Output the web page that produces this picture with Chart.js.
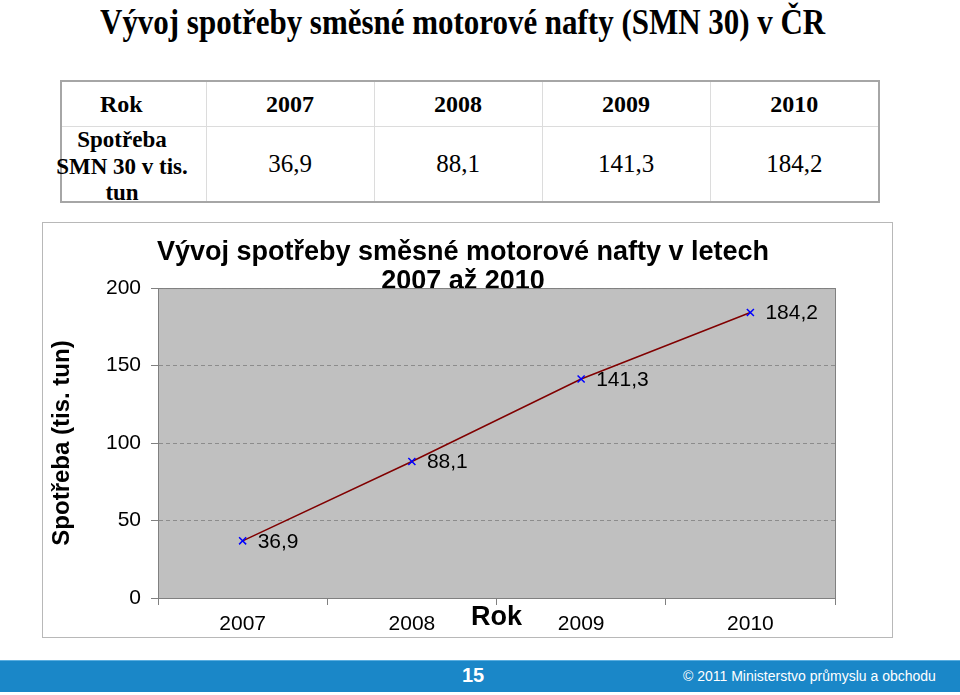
<!DOCTYPE html>
<html lang="cs">
<head>
<meta charset="utf-8">
<title>Vývoj spotřeby SMN 30</title>
<script src="https://cdn.jsdelivr.net/npm/chart.js@4/dist/chart.umd.min.js"></script>
<style>
  body { margin:0; width:960px; height:695px; position:relative; background:#fff; overflow:hidden; }
  #title { position:absolute; left:0; top:2px; width:925px; text-align:center;
    font-family:"Liberation Serif","Times New Roman",serif; font-weight:bold; font-size:36px; line-height:40px; }
  #title span { display:inline-block; transform:scaleX(0.86); white-space:nowrap; }
  #tbl { position:absolute; left:60px; top:80px; width:818px; border-collapse:collapse; table-layout:fixed;
    font-family:"Liberation Serif","Times New Roman",serif; font-size:25px; border:2px solid #a6a6a6; }
  #tbl td { border:1px solid #dcdcdc; padding:0; text-align:center; vertical-align:middle; overflow:visible; white-space:nowrap; }
  #tbl tr.head td { height:44px; font-weight:bold; font-size:24px; }
  #tbl tr.vals td { height:74px; }
  #tbl td.first { padding-right:25px; }
  .lbl { width:200px; margin-left:-40px; height:74px; line-height:26.5px; font-size:23px; font-weight:bold; padding-top:0; box-sizing:border-box; }
  #box { position:absolute; left:42px; top:222px; width:851px; height:416px; border:1px solid #b8b8b8; box-sizing:border-box; }
  #footer { position:absolute; left:0; top:660px; width:960px; height:32px; background:#1a87c8; border-top:1px solid #5aaee0; box-sizing:border-box;
    color:#fff; font-family:"Liberation Sans",Arial,sans-serif; }
  #page { position:absolute; left:453px; width:40px; top:3px; text-align:center; font-weight:bold; font-size:20px; }
  #copy { position:absolute; left:683px; top:7px; font-size:14px; white-space:nowrap; }
</style>
</head>
<body>
<div id="title"><span>Vývoj spotřeby směsné motorové nafty (SMN 30) v ČR</span></div>

<table id="tbl">
  <colgroup><col style="width:145px"><col style="width:168px"><col style="width:168px"><col style="width:168px"><col style="width:169px"></colgroup>
  <tr class="head" id="headRow"></tr>
  <tr class="vals" id="valRow"></tr>
</table>

<div id="box"><canvas id="smnChart" width="849" height="414"></canvas></div>

<div id="footer"><div id="page">15</div><div id="copy">© 2011 Ministerstvo průmyslu a obchodu</div></div>

<script>
// data
const years = ['2007', '2008', '2009', '2010'];
const consumption = [36.9, 88.1, 141.3, 184.2];
const yTicks = [0, 50, 100, 150, 200];

const fmt = v => v.toFixed(1).replace('.', ',');

//   <------------ Table ------------->
const headRow = document.getElementById('headRow');
const valRow = document.getElementById('valRow');
headRow.innerHTML = '<td class="first">Rok</td>' + years.map(y => '<td>' + y + '</td>').join('');
valRow.innerHTML = '<td class="first"><div class="lbl">Spotřeba<br>SMN 30 v tis.<br>tun</div></td>' +
  consumption.map(v => '<td>' + fmt(v) + '</td>').join('');

//   <------------ Chart ------------->
const plotBg = {
  id: 'plotBg',
  beforeDraw(chart) {
    const {ctx, chartArea: a} = chart;
    ctx.save();
    ctx.fillStyle = '#c0c0c0';
    ctx.fillRect(a.left, a.top, a.right - a.left, a.bottom - a.top);
    ctx.restore();
  },
  beforeDatasetsDraw(chart) {
    const {ctx, chartArea: a} = chart;
    ctx.save();
    ctx.strokeStyle = '#808080';
    ctx.lineWidth = 1;
    ctx.strokeRect(a.left + 0.5, a.top + 0.5, a.right - a.left, a.bottom - a.top);
    ctx.restore();
  }
};

const valueLabels = {
  id: 'valueLabels',
  afterDatasetsDraw(chart) {
    const ctx = chart.ctx;
    const meta = chart.getDatasetMeta(0);
    ctx.save();
    ctx.font = '21px "Liberation Sans", Arial, sans-serif';
    ctx.fillStyle = '#000';
    ctx.textBaseline = 'middle';
    meta.data.forEach((pt, i) => {
      ctx.fillText(fmt(consumption[i]), pt.x + 15, pt.y + 1);
    });
    ctx.restore();
  }
};

Chart.defaults.color = '#000';
Chart.defaults.font.family = '"Liberation Sans", Arial, sans-serif';

const ctx = document.getElementById('smnChart').getContext('2d');
const smnChart = new Chart(ctx, {
  type: 'line',
  data: {
    labels: years,
    datasets: [{
      label: 'Spotřeba SMN 30',
      data: consumption,
      borderColor: '#800000',
      borderWidth: 1.5,
      pointStyle: 'crossRot',
      pointRadius: 5,
      pointBorderColor: '#0000ff',
      pointBorderWidth: 1.5,
      fill: false,
      tension: 0
    }]
  },
  options: {
    responsive: false,
    animation: false,
    // left padding keeps the chart title centred where the original has it
    layout: { padding: { left: 48, right: 57, top: 0, bottom: 0 } },
    plugins: {
      legend: { display: false },
      tooltip: { enabled: false },
      title: {
        display: true,
        text: ['Vývoj spotřeby směsné motorové nafty v letech', '2007 až 2010'],
        font: { size: 27, weight: 'bold', lineHeight: 1.075 },
        color: '#000',
        padding: { top: 15, bottom: -8 }
      }
    },
    scales: {
      x: {
        offset: true,
        grid: { offset: true, drawOnChartArea: false, tickLength: 7, tickColor: '#808080' },
        border: { color: '#808080', width: 1 },
        ticks: { font: { size: 21 }, padding: 6.4, maxRotation: 0 },
        title: { display: true, text: 'Rok', font: { size: 27, weight: 'bold' }, padding: { top: 0, bottom: 2.8 } },
        afterFit(scale) { scale.height = 39; }
      },
      y: {
        min: yTicks[0],
        max: yTicks[yTicks.length - 1],
        afterBuildTicks(scale) { scale.ticks = yTicks.map(v => ({ value: v })); },
        grid: { color: '#8c8c8c', tickLength: 7, tickColor: '#808080', tickBorderDash: [] },
        border: { color: '#808080', width: 1, dash: [4, 3] },
        ticks: { font: { size: 21 }, padding: 10 },
        title: {
          display: true,
          text: 'Spotřeba (tis. tun)',
          font: { size: 24, weight: 'bold', family: '"Liberation Sans Narrow", "Liberation Sans", Arial, sans-serif' },
          padding: { top: -43.4, bottom: 0 }
        },
        afterFit(scale) { scale.width = 67; }
      }
    }
  },
  plugins: [plotBg, valueLabels]
});
</script>
</body>
</html>
